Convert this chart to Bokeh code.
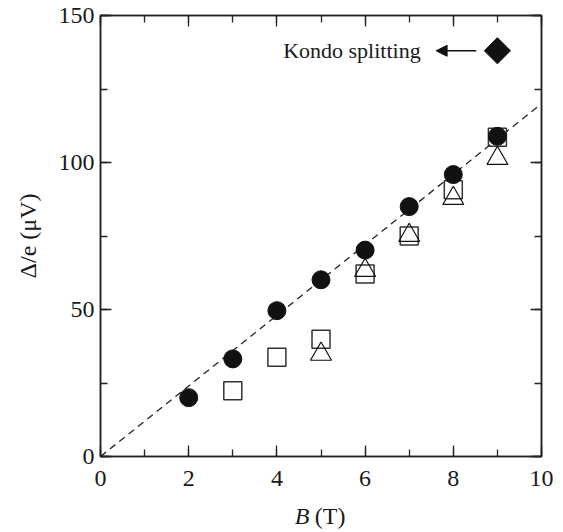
from bokeh.plotting import figure
from bokeh.models import LinearAxis, SingleIntervalTicker, Range1d, Label, Arrow, NormalHead
from bokeh.embed import file_html
from bokeh.resources import INLINE
import math

# ---- data ----
field_circle = [2, 3, 4, 5, 6, 7, 8, 9]
delta_circle = [20.0, 33.2, 49.6, 60.1, 70.2, 85.0, 95.9, 108.9]

field_square = [3, 4, 5, 6, 7, 8, 9]
delta_square = [22.4, 33.8, 39.9, 62.1, 75.0, 90.7, 108.6]

field_triangle = [5, 6, 7, 8, 9]
delta_triangle = [34.8, 63.3, 75.2, 87.8, 101.4]

fit_x = [0, 10]
fit_y = [0, 120]

kondo_x = [9]
kondo_y = [138]
arrow_start = 8.52
arrow_end = 7.61
label_text = "Kondo splitting"

x_ticks = [0, 2, 4, 6, 8, 10]
y_ticks = [0, 50, 100, 150]

FONT = "Liberation Serif"
TXT = "#1a1a1a"

p = figure(width=563, height=532, output_backend="svg", toolbar_location=None,
           x_range=Range1d(0, 10), y_range=Range1d(0, 150),
           min_border_left=100, min_border_right=22, min_border_top=15, min_border_bottom=76)
p.xgrid.visible = False
p.ygrid.visible = False
p.outline_line_color = "#222222"
p.outline_line_width = 1.5
p.background_fill_color = "white"
p.border_fill_color = "white"

def style_axis(ax, ticks, show_labels=True, standoff=6):
    ax.axis_line_color = "#222222"
    ax.axis_line_width = 1.5
    ax.major_tick_line_color = "#222222"
    ax.minor_tick_line_color = "#222222"
    ax.major_tick_line_width = 1.3
    ax.minor_tick_line_width = 1.3
    ax.major_tick_in = 11
    ax.major_tick_out = 0
    ax.minor_tick_in = 7
    ax.minor_tick_out = 0
    ax.major_label_text_font = FONT
    ax.major_label_text_color = TXT
    ax.major_label_text_font_size = "24px"
    if show_labels:
        ax.major_label_standoff = standoff
    else:
        ax.major_label_overrides = {t: "" for t in ticks}
        ax.major_label_standoff = 0

p.xaxis.ticker = SingleIntervalTicker(interval=2, num_minor_ticks=2)
p.yaxis.ticker = SingleIntervalTicker(interval=50, num_minor_ticks=2)
style_axis(p.xaxis[0], x_ticks, True, 14)
style_axis(p.yaxis[0], y_ticks, True, 6)

p.yaxis.axis_label = "Δ/e (μV)"
p.yaxis.axis_label_text_font = FONT
p.yaxis.axis_label_text_font_style = "normal"
p.yaxis.axis_label_text_font_size = "24px"
p.yaxis.axis_label_text_color = TXT
p.yaxis.axis_label_standoff = 15

top = LinearAxis(ticker=SingleIntervalTicker(interval=2, num_minor_ticks=2))
right = LinearAxis(ticker=SingleIntervalTicker(interval=50, num_minor_ticks=2))
style_axis(top, x_ticks, False)
style_axis(right, y_ticks, False)
p.add_layout(top, "above")
p.add_layout(right, "right")

# dashed fit line
p.line(fit_x, fit_y, line_color="#222222", line_width=1.3, line_dash="7 5")

# markers
p.scatter(field_square, delta_square, marker="square", size=18,
          fill_color=None, line_color="#333333", line_width=1.5)
p.scatter(field_triangle, delta_triangle, marker="triangle", size=21,
          fill_color=None, line_color="#111111", line_width=1.2)
p.scatter(field_circle, delta_circle, marker="circle", size=18,
          fill_color="#111111", line_color="#111111")

# Kondo splitting annotation
p.scatter(kondo_x, kondo_y, marker="square", size=18.5, angle=math.pi / 4,
          fill_color="#111111", line_color="#111111")
p.add_layout(Arrow(end=NormalHead(size=11, fill_color="#111111", line_color="#111111", line_width=1),
                   x_start=arrow_start, y_start=kondo_y[0], x_end=arrow_end, y_end=kondo_y[0],
                   line_color="#111111", line_width=1.5))
p.add_layout(Label(x=7.26, y=kondo_y[0], text=label_text, text_align="right",
                   text_baseline="middle", text_font=FONT, text_font_size="22px",
                   text_color=TXT))

# x-axis label: italic B and upright (T); placed in side panels (not clipped), data coords
p.add_layout(Label(x=4.74, y=-20.3, text="B", text_align="right",
                   text_baseline="middle", text_font=FONT, text_font_style="italic",
                   text_font_size="24px", text_color=TXT), "right")
p.add_layout(Label(x=4.86, y=-20.3, text="(T)", text_align="left",
                   text_baseline="middle", text_font=FONT, text_font_size="24px",
                   text_color=TXT), "below")

open("out.html", "w").write(file_html(p, INLINE))
